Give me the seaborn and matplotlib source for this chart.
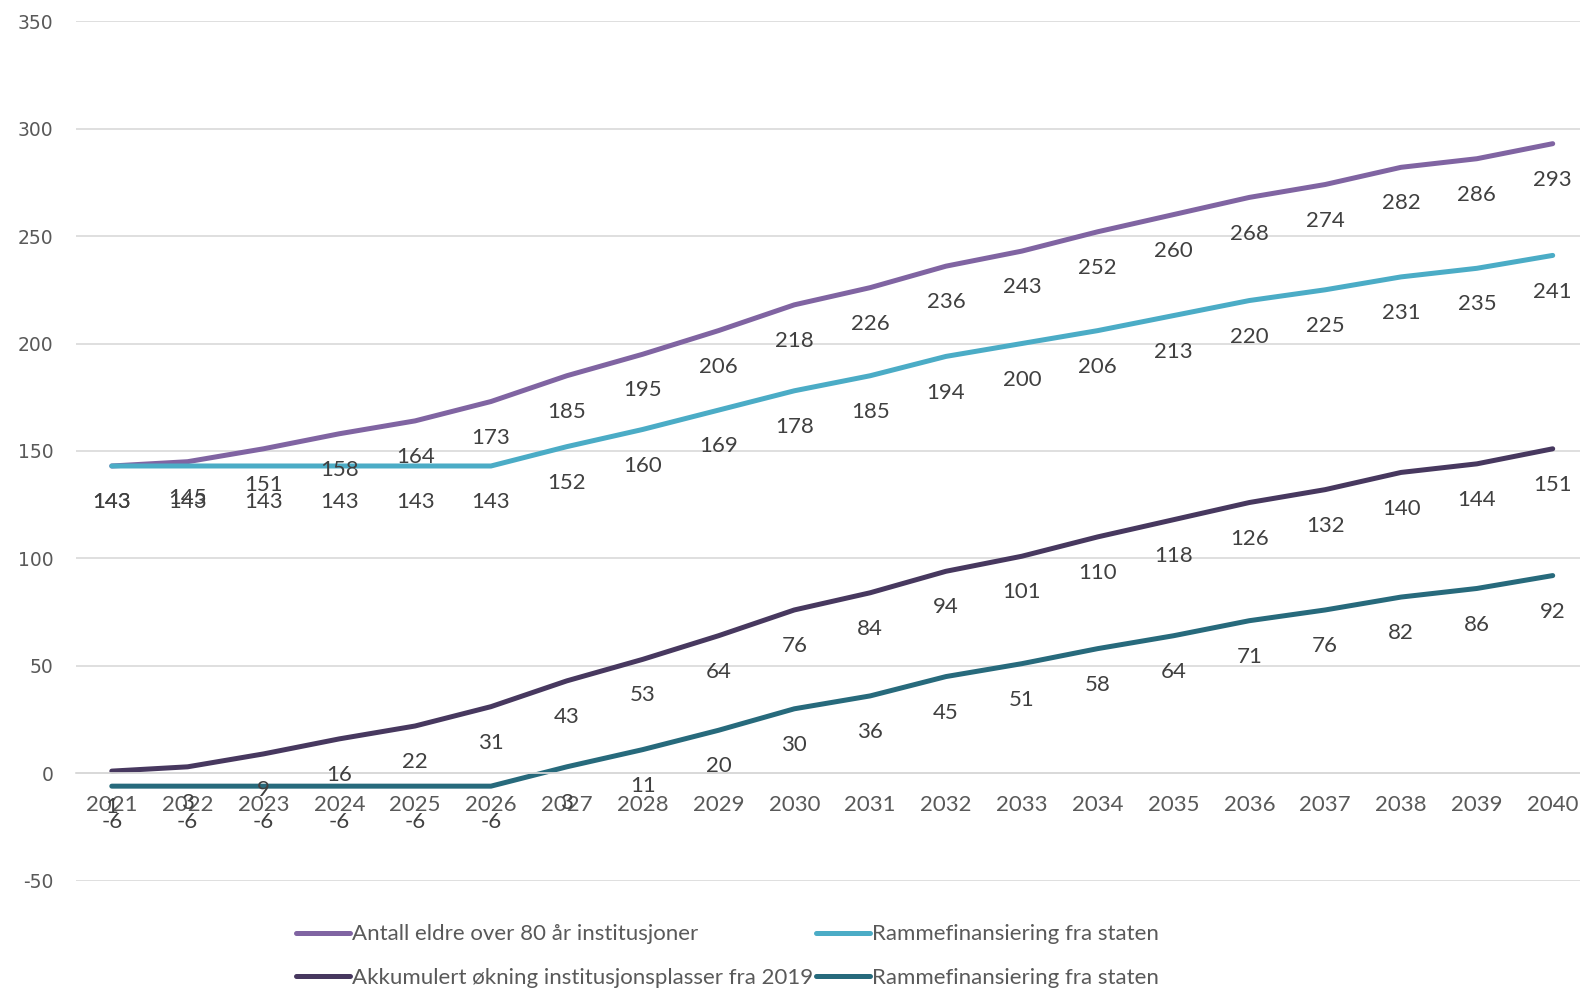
import matplotlib
matplotlib.use("Agg")
import matplotlib.pyplot as plt
import seaborn as sns
import pandas as pd
from matplotlib.lines import Line2D

years = list(range(2021, 2041))
antall_eldre = [143, 145, 151, 158, 164, 173, 185, 195, 206, 218, 226, 236, 243, 252, 260, 268, 274, 282, 286, 293]
ramme_1 = [143, 143, 143, 143, 143, 143, 152, 160, 169, 178, 185, 194, 200, 206, 213, 220, 225, 231, 235, 241]
akkumulert = [1, 3, 9, 16, 22, 31, 43, 53, 64, 76, 84, 94, 101, 110, 118, 126, 132, 140, 144, 151]
ramme_2 = [-6, -6, -6, -6, -6, -6, 3, 11, 20, 30, 36, 45, 51, 58, 64, 71, 76, 82, 86, 92]
names = ["Antall eldre over 80 år institusjoner",
         "Rammefinansiering fra staten",
         "Akkumulert økning institusjonsplasser fra 2019",
         "Rammefinansiering fra staten "]
series = [antall_eldre, ramme_1, akkumulert, ramme_2]
colors = ["#8064a2", "#4bacc6", "#47385f", "#276a7c"]
yticks = [-50, 0, 50, 100, 150, 200, 250, 300, 350]

rows = []
for n, vals in zip(names, series):
    for y, v in zip(years, vals):
        rows.append({"year": y, "value": v, "series": n})
df = pd.DataFrame(rows)

sns.set_theme(style="white")
plt.rcParams['font.family'] = ['Lato', 'DejaVu Sans']

fig = plt.figure(figsize=(15.8, 9.89), dpi=100)
ax = fig.add_axes([75.6/1580, 1-880.7/989, (1580-75.6)/1580, (880.7-21.2)/989])

lw = 3.6
sns.lineplot(data=df, x="year", y="value", hue="series", palette=dict(zip(names, colors)),
             hue_order=names, linewidth=lw, ax=ax, legend=False, solid_capstyle="round")

for n, vals, c in zip(names, series, colors):
    for y, v in zip(years, vals):
        ax.annotate(str(v), (y, v), xytext=(0, -26), textcoords="offset points",
                    ha="center", va="center", fontsize=16, color="#404040", zorder=5)

ax.spines["bottom"].set_position(("data", 0))
ax.spines["bottom"].set_color("#d9d9d9")
for s in ["top", "right", "left"]:
    ax.spines[s].set_visible(False)

ax.set_xlim(2020.523, 2040.36)
ax.set_ylim(-50, 350)
ax.set_yticks(yticks)
ax.set_yticklabels([str(t) for t in yticks])
ax.yaxis.grid(True, color="#d9d9d9", linewidth=1.2)
ax.set_axisbelow(True)
ax.tick_params(axis="y", length=0, pad=16)

ax.set_xticks(years)
ax.set_xticklabels([str(y) for y in years])
ax.tick_params(axis="x", length=0, pad=16)
ax.set_xlabel("")
ax.set_ylabel("")

for t in ax.get_yticklabels():
    t.set_fontfamily("DejaVu Sans")
    t.set_fontsize(13.5)
    t.set_color("#595959")
for t in ax.get_xticklabels():
    t.set_fontfamily(["Lato", "DejaVu Sans"])
    t.set_fontsize(16)
    t.set_color("#595959")

order = [0, 2, 1, 3]
handles = [Line2D([0], [0], color=colors[i], linewidth=lw, solid_capstyle="round") for i in order]
labels = [names[i].strip() for i in order]
fig.legend(handles, labels, loc="center", bbox_to_anchor=(727.5/1580, 1-956/989), ncol=2,
           frameon=False, fontsize=16, handlelength=2.4, handletextpad=0.1,
           columnspacing=0.15, labelspacing=1.05, labelcolor="#595959")

fig.savefig("out.png", dpi=100)
